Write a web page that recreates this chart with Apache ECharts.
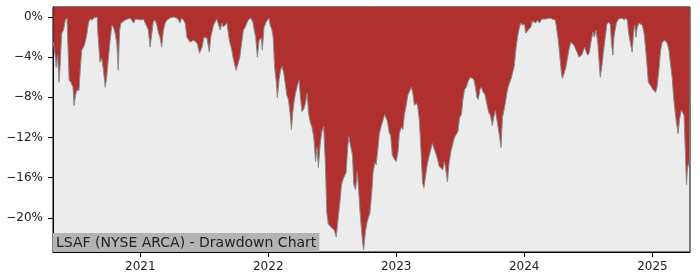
<!DOCTYPE html>
<html>
<head>
<meta charset="utf-8">
<script src="https://cdn.jsdelivr.net/npm/echarts@6/dist/echarts.min.js"></script>
<style>html,body{margin:0;padding:0;background:#fff;}#c{width:700px;height:280px;}</style>
</head>
<body>
<div id="c"></div>
<script>
const titleText = 'LSAF (NYSE ARCA) - Drawdown Chart';
const yTicks = [0, -4, -8, -12, -16, -20];
const xTickYears = ['2021-01-01', '2022-01-01', '2023-01-01', '2024-01-01', '2025-01-01'];

const dates = [
'2020-04-28','2020-05-03','2020-05-06','2020-05-10','2020-05-14','2020-05-17','2020-05-22','2020-05-27','2020-06-01','2020-06-06',
'2020-06-09','2020-06-12','2020-06-17','2020-06-23','2020-06-26','2020-06-30','2020-07-04','2020-07-10','2020-07-14','2020-07-18',
'2020-07-23','2020-07-28','2020-08-02','2020-08-06','2020-08-11','2020-08-17','2020-08-21','2020-08-26','2020-08-31','2020-09-02',
'2020-09-08','2020-09-13','2020-09-18','2020-09-23','2020-09-27','2020-10-02','2020-10-07','2020-10-12','2020-10-17','2020-10-21',
'2020-10-26','2020-10-30','2020-11-03','2020-11-07','2020-11-12','2020-11-19','2020-11-24','2020-12-03','2020-12-08','2020-12-13',
'2020-12-18','2020-12-22',
'2021-01-04','2021-01-10','2021-01-15','2021-01-20','2021-01-24','2021-01-29','2021-02-03','2021-02-07','2021-02-12','2021-02-17',
'2021-02-22','2021-02-26','2021-03-03','2021-03-08','2021-03-13','2021-03-18','2021-03-27','2021-04-06','2021-04-15','2021-04-20',
'2021-04-24','2021-04-29','2021-05-04','2021-05-09','2021-05-14','2021-05-23','2021-06-02','2021-06-12','2021-06-19','2021-06-26',
'2021-07-02','2021-07-10','2021-07-17','2021-07-21','2021-07-29','2021-08-07','2021-08-12','2021-08-17','2021-08-22','2021-08-26',
'2021-09-05','2021-09-12','2021-09-19','2021-09-23','2021-10-01','2021-10-08','2021-10-12','2021-10-17','2021-10-22','2021-10-26',
'2021-11-01','2021-11-05','2021-11-12','2021-11-18','2021-11-22','2021-11-26','2021-12-01','2021-12-06','2021-12-12','2021-12-15',
'2021-12-20','2021-12-26',
'2022-01-03','2022-01-07','2022-01-11','2022-01-15','2022-01-19','2022-01-24','2022-01-27','2022-02-01','2022-02-05','2022-02-09',
'2022-02-14','2022-02-18','2022-02-23','2022-02-28','2022-03-04','2022-03-08','2022-03-12','2022-03-16','2022-03-21','2022-03-26',
'2022-03-30','2022-04-02','2022-04-07','2022-04-12','2022-04-17','2022-04-22','2022-04-26','2022-05-01','2022-05-06','2022-05-11',
'2022-05-16','2022-05-20','2022-05-24','2022-05-29','2022-06-03','2022-06-08','2022-06-13','2022-06-17','2022-06-21','2022-06-26',
'2022-07-01','2022-07-08','2022-07-14','2022-07-19','2022-07-25','2022-07-29','2022-08-04','2022-08-11','2022-08-16','2022-08-19',
'2022-08-23','2022-08-29','2022-09-02','2022-09-07','2022-09-12','2022-09-16','2022-09-21','2022-09-27','2022-09-30','2022-10-05',
'2022-10-10','2022-10-14','2022-10-18','2022-10-23','2022-10-27','2022-11-01','2022-11-05','2022-11-10','2022-11-14','2022-11-19',
'2022-11-24','2022-11-29','2022-12-03','2022-12-07','2022-12-12','2022-12-16','2022-12-21','2022-12-26',
'2023-01-01','2023-01-06','2023-01-10','2023-01-15','2023-01-20','2023-01-24','2023-01-29','2023-02-03','2023-02-08','2023-02-13',
'2023-02-17','2023-02-22','2023-02-27','2023-03-03','2023-03-08','2023-03-13','2023-03-17','2023-03-21','2023-03-25','2023-03-30',
'2023-04-04','2023-04-09','2023-04-14','2023-04-19','2023-04-24','2023-04-29','2023-05-04','2023-05-09','2023-05-14','2023-05-18',
'2023-05-22','2023-05-27','2023-06-01','2023-06-06','2023-06-11','2023-06-16','2023-06-21','2023-06-26','2023-07-01','2023-07-06',
'2023-07-10','2023-07-15','2023-07-20','2023-07-25','2023-07-31','2023-08-05','2023-08-10','2023-08-15','2023-08-19','2023-08-23',
'2023-08-28','2023-09-01','2023-09-06','2023-09-11','2023-09-18','2023-09-22','2023-09-27','2023-10-02','2023-10-06','2023-10-11',
'2023-10-16','2023-10-20','2023-10-24','2023-10-27','2023-10-31','2023-11-06','2023-11-13','2023-11-17','2023-11-21','2023-11-26',
'2023-11-30','2023-12-04','2023-12-08','2023-12-13','2023-12-18','2023-12-22','2023-12-27',
'2024-01-02','2024-01-05','2024-01-10','2024-01-15','2024-01-20','2024-01-25','2024-01-30','2024-02-03','2024-02-08','2024-02-13',
'2024-02-17','2024-02-21','2024-02-26','2024-03-02','2024-03-07','2024-03-15','2024-03-21','2024-03-26','2024-03-30','2024-04-03',
'2024-04-07','2024-04-12','2024-04-16','2024-04-19','2024-04-24','2024-04-29','2024-05-03','2024-05-08','2024-05-13','2024-05-17',
'2024-05-22','2024-05-27','2024-06-01','2024-06-05','2024-06-09','2024-06-13','2024-06-18','2024-06-22','2024-06-27','2024-07-01',
'2024-07-05','2024-07-10','2024-07-15','2024-07-19','2024-07-24','2024-07-29','2024-08-02','2024-08-05','2024-08-10','2024-08-14',
'2024-08-19','2024-08-24','2024-08-30','2024-09-03','2024-09-06','2024-09-10','2024-09-13','2024-09-20','2024-09-26','2024-10-07',
'2024-10-12','2024-10-16','2024-10-21','2024-10-25','2024-10-30','2024-11-04','2024-11-08','2024-11-11','2024-11-15','2024-11-18',
'2024-11-23','2024-12-03','2024-12-08','2024-12-12','2024-12-17','2024-12-20','2024-12-26','2024-12-31',
'2025-01-04','2025-01-10','2025-01-14','2025-01-20','2025-01-24','2025-01-29','2025-02-05','2025-02-12','2025-02-17','2025-02-21',
'2025-02-26','2025-03-03','2025-03-08','2025-03-12','2025-03-15','2025-03-19','2025-03-24','2025-03-28','2025-04-01','2025-04-04',
'2025-04-08','2025-04-11','2025-04-15','2025-04-17'
];

const drawdown = [
-2.5,-3.8,-5.0,-3.8,-6.5,-5.0,-1.6,-1.3,-0.3,-0.1,
0,-6.3,-6.5,-7.0,-8.8,-7.8,-7.3,-7.3,-5.1,-3.3,
-3.0,-2.5,-1.6,-0.6,-0.2,-0.3,-0.1,-0.2,0,-1.6,
-4.5,-4.1,-5.3,-7.0,-6.0,-4.1,-2.3,-0.8,-1.1,-1.6,
-2.6,-5.3,-1.3,-0.6,-0.5,-0.3,-0.4,-0.1,-0.2,-0.6,
-0.2,-0.1,
-0.3,-0.2,-0.6,-0.5,-1.3,-3.0,-1.6,-0.5,-0.3,-0.8,
-1.6,-2.0,-3.0,-1.3,-0.6,-0.3,-0.1,0,-0.1,-0.3,
-0.6,-0.1,-0.3,-0.6,-2.0,-2.5,-2.3,-2.6,-3.6,-3.0,
-2.0,-2.1,-3.5,-2.0,-0.8,-0.2,-0.1,-1.3,-0.6,-1.0,
-0.6,-2.3,-3.3,-4.1,-5.3,-4.5,-4.0,-2.6,-1.3,-1.1,
-0.6,-0.3,-0.1,-0.5,-1.3,-2.0,-4.0,-2.3,-2.1,-3.3,
-1.0,-0.5,
-0.1,-0.9,-1.2,-2.0,-5.0,-6.5,-8.0,-6.2,-5.3,-4.9,
-5.5,-6.5,-7.8,-8.3,-9.5,-11.2,-9.5,-8.3,-7.4,-6.7,
-6.3,-7.7,-9.4,-9.2,-8.6,-7.6,-9.6,-10.5,-11.0,-12.0,
-14.4,-13.0,-15.0,-12.7,-11.4,-10.9,-14.7,-19.5,-20.6,-20.5,
-21.0,-21.2,-21.9,-20.2,-18.2,-16.7,-16.0,-15.5,-12.8,-11.9,
-12.7,-13.7,-16.7,-17.2,-15.4,-17.4,-20.0,-22.4,-23.2,-21.4,
-20.4,-20.5,-19.5,-17.6,-15.5,-14.5,-14.7,-13.0,-11.6,-10.9,
-10.3,-9.7,-9.8,-10.4,-11.5,-11.8,-13.8,-14.1,
-14.4,-13.5,-11.6,-11.0,-11.2,-9.8,-8.9,-7.8,-7.8,-7.0,
-7.5,-8.8,-8.6,-8.8,-10.3,-13.5,-16.5,-17.0,-16.0,-14.8,
-14.0,-13.3,-12.6,-12.7,-13.6,-14.2,-14.9,-15.0,-15.2,-14.4,
-15.1,-16.4,-14.5,-13.4,-12.7,-12.0,-12.0,-11.4,-10.0,-9.7,
-8.3,-7.2,-7.0,-6.4,-6.0,-6.1,-6.2,-7.0,-8.0,-8.2,
-7.2,-7.0,-7.5,-7.7,-8.9,-9.5,-9.8,-10.8,-10.0,-9.3,
-10.4,-11.3,-12.2,-13.0,-10.0,-9.0,-7.5,-6.9,-6.5,-6.0,
-5.4,-4.8,-3.3,-2.0,-1.1,-0.6,-0.8,
-0.7,-1.6,-1.5,-1.2,-1.0,-0.4,-0.4,-0.6,-0.3,-0.6,
-0.5,-0.2,-0.1,-0.2,-0.1,-0.1,-0.2,-0.1,-0.3,-1.3,
-2.2,-4.0,-5.5,-6.1,-5.6,-5.0,-4.2,-3.2,-2.5,-2.4,
-2.8,-3.2,-3.6,-4.0,-4.0,-3.8,-3.3,-3.0,-3.6,-3.8,
-3.5,-2.4,-1.5,-2.0,-1.3,-2.6,-4.6,-6.0,-4.8,-3.5,
-2.1,-0.7,-0.5,-0.8,-2.6,-3.8,-2.0,-0.6,-0.2,-0.1,
-0.3,-0.1,-0.3,-1.6,-2.6,-3.5,-1.6,-0.8,-2.0,-1.1,
-0.6,-0.8,-1.6,-3.0,-5.0,-6.5,-6.8,-7.1,
-7.3,-7.5,-7.0,-5.0,-3.3,-2.5,-2.3,-2.6,-3.3,-4.6,
-6.0,-8.3,-9.9,-10.9,-11.6,-10.2,-9.3,-9.5,-9.8,-12.7,
-16.7,-15.0,-14.6,-14.5
];

const xMin = '2020-04-27';
const xMax = '2025-04-18';
const yMin = -23.4;
const yMax = 1.0;

const toTs = s => Date.UTC(+s.slice(0, 4), +s.slice(5, 7) - 1, +s.slice(8, 10));
const seriesData = dates.map((d, i) => [toTs(d), drawdown[i]]);
const xTickValues = xTickYears.map(toTs);
const font = 'DejaVu Sans';

const chart = echarts.init(document.getElementById('c'), null, {renderer: 'canvas'});
chart.setOption({
  animation: false,
  backgroundColor: '#ffffff',
  title: {
    text: titleText,
    left: 53,
    bottom: 28,
    padding: [3, 3, 2, 3],
    backgroundColor: '#b3b3b3',
    textStyle: {fontFamily: font, fontSize: 14, fontWeight: 'normal', color: '#222222', lineHeight: 14}
  },
  grid: {
    left: 53, right: 10, top: 7, bottom: 28,
    show: true, backgroundColor: '#ececec', borderColor: '#000000', borderWidth: 1
  },
  xAxis: {
    type: 'value',
    min: toTs(xMin),
    max: toTs(xMax),
    splitLine: {show: false},
    axisLine: {show: true, onZero: false, lineStyle: {color: '#000', width: 1}},
    axisTick: {show: true, length: 5, lineStyle: {color: '#000'}, customValues: xTickValues},
    axisLabel: {
      margin: 9, fontFamily: font, fontSize: 12, color: '#222',
      customValues: xTickValues,
      formatter: v => String(new Date(v).getUTCFullYear())
    }
  },
  yAxis: {
    type: 'value',
    min: yMin,
    max: yMax,
    splitLine: {show: false},
    axisLine: {show: true, onZero: false, lineStyle: {color: '#000', width: 1}},
    axisTick: {show: true, length: 5, lineStyle: {color: '#000'}, customValues: yTicks},
    axisLabel: {
      margin: 10, fontFamily: font, fontSize: 12, color: '#222',
      customValues: yTicks,
      formatter: v => (v < 0 ? '\u2212' + Math.abs(v) : String(v)) + '%'
    }
  },
  series: [{
    type: 'line',
    data: seriesData,
    symbol: 'none',
    z: 1,
    lineStyle: {color: '#8a8a8a', width: 1},
    areaStyle: {color: '#b03030', opacity: 1, origin: 'end'}
  }]
});
</script>
</body>
</html>
